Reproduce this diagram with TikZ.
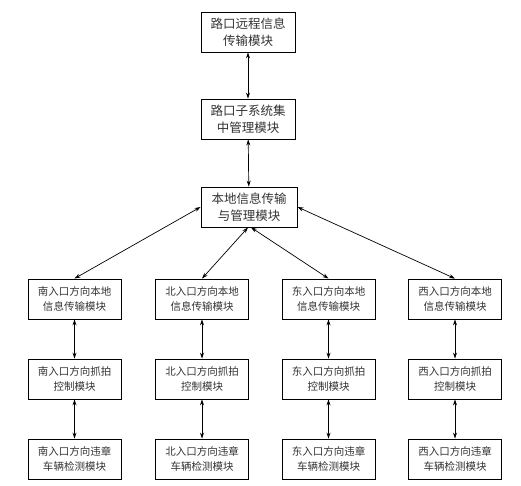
\documentclass[tikz,border=0pt]{standalone}
\usepackage{fontspec}
\newfontfamily\cjk{Noto Sans CJK SC}
\usetikzlibrary{arrows.meta}
\begin{document}
\begin{tikzpicture}[x=1pt,y=1pt,
  topbox/.style={draw,line width=0.9pt,minimum width=94pt,minimum height=40pt,inner sep=0pt,align=center,text=black!80,font=\cjk\fontsize{12.5}{17}\selectfont},
  rowbox/.style={draw,line width=0.9pt,minimum width=93pt,minimum height=40pt,inner sep=0pt,align=center,text=black!80,font=\cjk\fontsize{10.5}{15}\selectfont},
  link/.style={line width=0.7pt,{Stealth[length=6pt,width=4pt]}-{Stealth[length=6pt,width=4pt]}}]
\useasboundingbox (0,0) rectangle (521,485);
\node[topbox] (t1) at (248,453) {路口远程信息\\传输模块};
\node[topbox] (t2) at (248,366) {路口子系统集\\中管理模块};
\node[topbox,minimum width=96pt] (t3) at (249,278) {本地信息传输\\与管理模块};

\node[rowbox] (s1) at (74.5,186) {南入口方向本地\\信息传输模块};
\node[rowbox] (n1) at (202,186) {北入口方向本地\\信息传输模块};
\node[rowbox] (e1) at (328.5,186) {东入口方向本地\\信息传输模块};
\node[rowbox] (w1) at (455,186) {西入口方向本地\\信息传输模块};

\node[rowbox] (s2) at (74.5,106) {南入口方向抓拍\\控制模块};
\node[rowbox] (n2) at (202,106) {北入口方向抓拍\\控制模块};
\node[rowbox] (e2) at (328.5,106) {东入口方向抓拍\\控制模块};
\node[rowbox] (w2) at (455,106) {西入口方向抓拍\\控制模块};

\node[rowbox] (s3) at (74.5,26) {南入口方向违章\\车辆检测模块};
\node[rowbox] (n3) at (202,26) {北入口方向违章\\车辆检测模块};
\node[rowbox] (e3) at (328.5,26) {东入口方向违章\\车辆检测模块};
\node[rowbox] (w3) at (455,26) {西入口方向违章\\车辆检测模块};

\draw[link] (t1) -- (t2);
\draw[link] (t2) -- (t3);
\draw[link] (t3.west) -- (s1.north);
\draw[link] ([xshift=-1pt]t3.south) -- (n1.north);
\draw[link] ([xshift=2pt]t3.south) -- (e1.north);
\draw[link] (t3.east) -- (w1.north);
\foreach \a in {s,n,e,w}{
  \draw[link] (\a1) -- (\a2);
  \draw[link] (\a2) -- (\a3);
}
\end{tikzpicture}
\end{document}
